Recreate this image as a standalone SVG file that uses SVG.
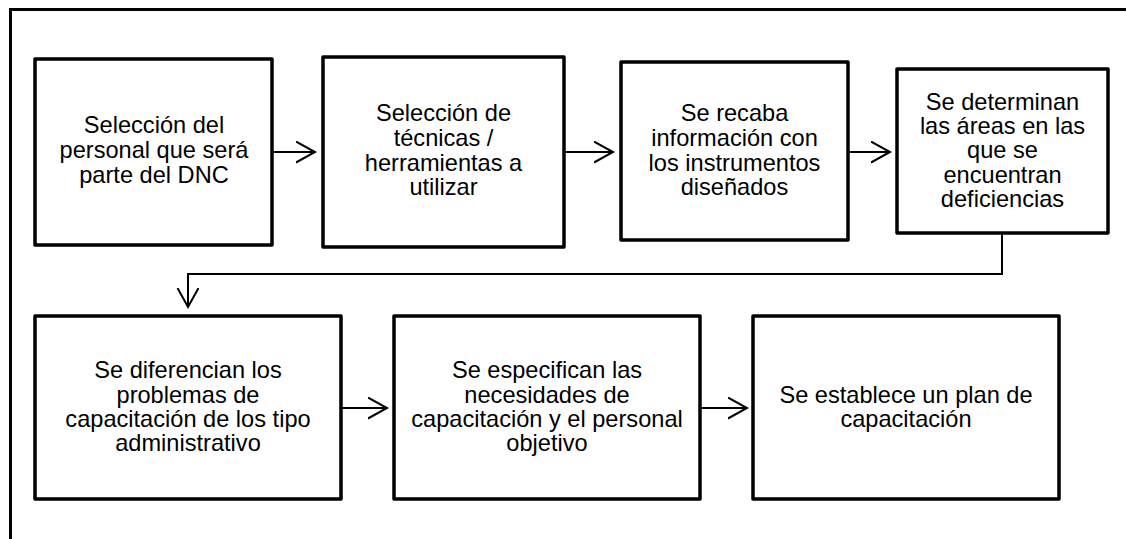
<svg xmlns="http://www.w3.org/2000/svg" width="1126" height="539" viewBox="0 0 1126 539">
<style>
.frame{fill:none;stroke:#000;stroke-width:3}
.box{fill:#fff;stroke:#000;stroke-width:3.5;stroke-linejoin:round}
.lbl{font-family:"Liberation Sans",Arial,sans-serif;font-size:23.6px;fill:#000;text-anchor:middle}
.con{fill:none;stroke:#000;stroke-width:2}
</style>
<defs>
<marker id="arr" markerUnits="userSpaceOnUse" markerWidth="24" markerHeight="26" refX="19" refY="11" orient="auto" viewBox="0 0 24 26">
<path d="M0,0.5 L19,11 L0,21.5" fill="none" stroke="#000" stroke-width="2"/>
</marker>
</defs>
<rect width="1126" height="539" fill="#fff"/>
<path class="frame" d="M10.5,545 V9.5 H1135"/>
<g id="connectors">
<path class="con" d="M272,152 H315" marker-end="url(#arr)"/>
<path class="con" d="M564,152 H613" marker-end="url(#arr)"/>
<path class="con" d="M848,152 H890" marker-end="url(#arr)"/>
<path class="con" d="M1002,233 V274 H188 V307" marker-end="url(#arr)"/>
<path class="con" d="M341,408 H387" marker-end="url(#arr)"/>
<path class="con" d="M700,408 H747" marker-end="url(#arr)"/>
</g>
<g id="n1">
<rect class="box" x="35" y="59" width="237" height="186"/>
<text class="lbl" x="154" y="133">Selección del</text>
<text class="lbl" x="154" y="158">personal que será</text>
<text class="lbl" x="154" y="183">parte del DNC</text>
</g>
<g id="n2">
<rect class="box" x="323" y="57" width="241" height="190"/>
<text class="lbl" x="443.5" y="121">Selección de</text>
<text class="lbl" x="443.5" y="146">técnicas /</text>
<text class="lbl" x="443.5" y="170.5">herramientas a</text>
<text class="lbl" x="443.5" y="195">utilizar</text>
</g>
<g id="n3">
<rect class="box" x="621" y="62" width="227" height="178"/>
<text class="lbl" x="734.5" y="121">Se recaba</text>
<text class="lbl" x="734.5" y="146">información con</text>
<text class="lbl" x="734.5" y="170.5">los instrumentos</text>
<text class="lbl" x="734.5" y="195">diseñados</text>
</g>
<g id="n4">
<rect class="box" x="897" y="69" width="211" height="164"/>
<text class="lbl" x="1002.5" y="109.5">Se determinan</text>
<text class="lbl" x="1002.5" y="133.5">las áreas en las</text>
<text class="lbl" x="1002.5" y="158">que se</text>
<text class="lbl" x="1002.5" y="182.5">encuentran</text>
<text class="lbl" x="1002.5" y="207">deficiencias</text>
</g>
<g id="n5">
<rect class="box" x="35" y="316" width="306" height="183"/>
<text class="lbl" x="188" y="378">Se diferencian los</text>
<text class="lbl" x="188" y="402.5">problemas de</text>
<text class="lbl" x="188" y="427">capacitación de los tipo</text>
<text class="lbl" x="188" y="451">administrativo</text>
</g>
<g id="n6">
<rect class="box" x="394" y="316" width="306" height="183"/>
<text class="lbl" x="547" y="378">Se especifican las</text>
<text class="lbl" x="547" y="402.5">necesidades de</text>
<text class="lbl" x="547" y="427">capacitación y el personal</text>
<text class="lbl" x="547" y="451">objetivo</text>
</g>
<g id="n7">
<rect class="box" x="753" y="316" width="306" height="183"/>
<text class="lbl" x="906" y="403">Se establece un plan de</text>
<text class="lbl" x="906" y="427">capacitación</text>
</g>
</svg>
